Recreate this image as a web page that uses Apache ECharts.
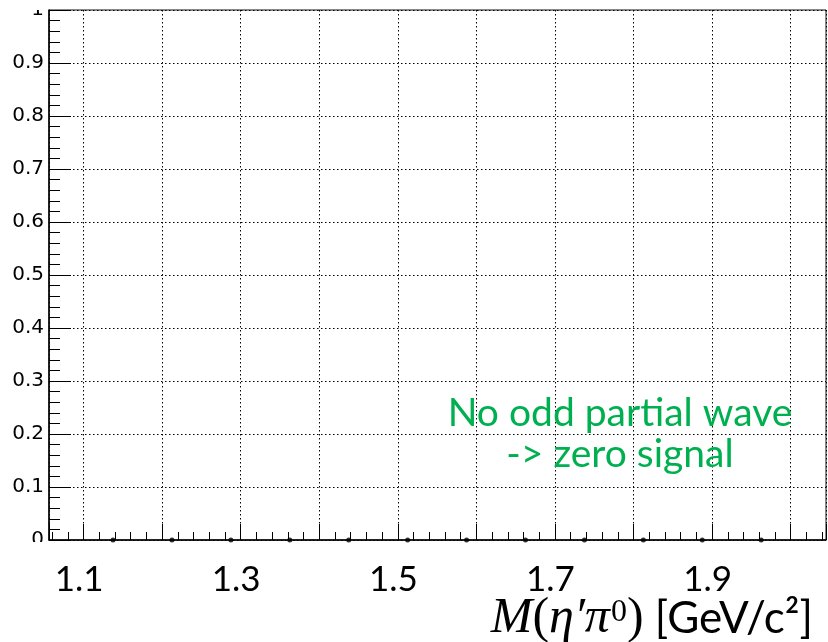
<!DOCTYPE html>
<html>
<head>
<meta charset="utf-8">
<script src="https://cdn.jsdelivr.net/npm/echarts@6/dist/echarts.min.js"></script>
<style>
html,body{margin:0;padding:0;background:#fff;}
#chart{width:828px;height:642px;}
</style>
</head>
<body>
<div id="chart"></div>
<script>
// ---- data ----
const binCenters = [1.1375, 1.2125, 1.2875, 1.3625, 1.4375, 1.5125, 1.5875, 1.6625, 1.7375, 1.8125, 1.8875, 1.9625];
const signalValues = [0, 0, 0, 0, 0, 0, 0, 0, 0, 0, 0, 0];
const xTickLabels = ['1.1', '1.3', '1.5', '1.7', '1.9'];
const yTickLabels = ['0', '0.1', '0.2', '0.3', '0.4', '0.5', '0.6', '0.7', '0.8', '0.9', '1'];
const xRange = [1.056, 2.045];
const yRange = [0, 1];
const annotationLines = ['No odd partial wave', '-> zero signal'];

const chart = echarts.init(document.getElementById('chart'), null, {renderer: 'canvas'});

const dotted = {color: '#000', width: 1, type: [1.5, 2.5]};

const option = {
  animation: false,
  backgroundColor: '#fff',
  grid: {left: 49, right: 2, top: 9.5, bottom: 102, show: true, borderColor: '#111', borderWidth: 1, backgroundColor: 'transparent'},
  xAxis: {
    type: 'value', min: xRange[0], max: xRange[1], splitNumber: 10,
    axisLine: {show: true, onZero: false, lineStyle: {color: '#000', width: 1.5}},
    axisTick: {show: true, inside: true, length: 16, lineStyle: {color: '#000', width: 1}},
    minorTick: {show: true, splitNumber: 5, length: 8, lineStyle: {color: '#000', width: 1}},
    splitLine: {show: true, lineStyle: dotted},
    axisLabel: {
      show: true, margin: 22, color: '#000', fontFamily: 'Lato', fontSize: 35, padding: [0, 9, 0, 0],
      showMinLabel: false, showMaxLabel: false,
      formatter: function (v) {
        const s = v.toFixed(1);
        return (xTickLabels.indexOf(s) >= 0 && Math.abs(v - parseFloat(s)) < 1e-6) ? s : '';
      }
    }
  },
  yAxis: {
    type: 'value', min: yRange[0], max: yRange[1], splitNumber: 10,
    axisLine: {show: true, lineStyle: {color: '#000', width: 1.5}},
    axisTick: {show: true, inside: true, length: 22, lineStyle: {color: '#000', width: 1}},
    minorTick: {show: true, splitNumber: 5, length: 11, lineStyle: {color: '#000', width: 1}},
    splitLine: {show: true, lineStyle: dotted},
    axisLabel: {
      show: true, margin: 5, color: '#000', fontFamily: 'DejaVu Sans', fontSize: 20,
      formatter: function (v) {
        const i = Math.round(v * 10);
        return (Math.abs(v * 10 - i) < 1e-6 && yTickLabels[i] !== undefined) ? yTickLabels[i] : '';
      }
    }
  },
  series: [{
    type: 'scatter',
    data: binCenters.map((x, i) => [x, signalValues[i]]),
    symbol: 'circle', symbolSize: 5,
    itemStyle: {color: '#000'},
    clip: false, z: 10
  }],
  graphic: [
    {type: 'rect', z: 100, shape: {x: 0, y: 0, width: 47, height: 10}, style: {fill: '#fff'}},
    {type: 'rect', z: 100, shape: {x: 0, y: 542, width: 47, height: 16}, style: {fill: '#fff'}},
    {
      type: 'text', z: 100, x: 813, y: 644,
      style: {
        text: '{m|M}{p|(}{m|η′π}{s|0}{p|)}{u| [GeV/c²]}',
        textAlign: 'right', textVerticalAlign: 'bottom', fill: '#000',
        rich: {
          m: {fontFamily: 'Liberation Serif', fontStyle: 'italic', fontSize: 50, fill: '#000'},
          p: {fontFamily: 'Liberation Serif', fontSize: 50, fill: '#000'},
          s: {fontFamily: 'Liberation Serif', fontSize: 32, fill: '#000', verticalAlign: 'top', padding: [3, 0, 0, 1]},
          u: {fontFamily: 'Lato', fontSize: 44, fill: '#000'}
        }
      }
    },
    {
      type: 'text', z: 100, x: 620, y: 434,
      style: {
        text: annotationLines.join('\n'),
        textAlign: 'center', textVerticalAlign: 'middle',
        fontFamily: 'Lato', fontSize: 39, lineHeight: 41, fill: '#00B050'
      }
    }
  ]
};
chart.setOption(option);
</script>
</body>
</html>
